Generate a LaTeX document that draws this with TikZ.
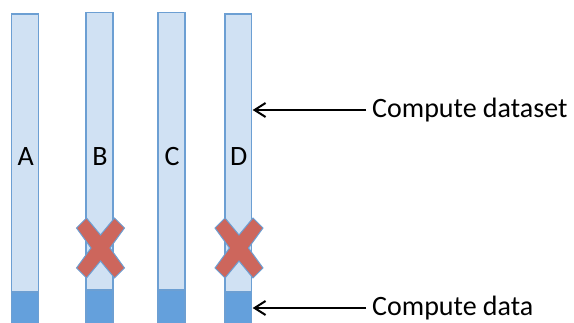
\documentclass[tikz,border=0pt]{standalone}
\usepackage{fontspec}
\setmainfont{Carlito}
\usetikzlibrary{arrows.meta}
\definecolor{barlight}{RGB}{208,225,243}
\definecolor{bardark}{RGB}{100,160,220}
\definecolor{barline}{RGB}{108,159,211}
\definecolor{crossred}{RGB}{205,102,92}
\tikzset{
  lightpart/.style={draw=barline, fill=barlight, line width=1.4pt},
  darkpart/.style={draw=barline, fill=bardark, line width=1.4pt},
  letter/.style={font=\fontsize{28}{30}\selectfont, inner sep=0pt},
  lbl/.style={font=\fontsize{28}{30}\selectfont, inner sep=0pt, anchor=west},
  ptr/.style={-{Straight Barb[length=11pt,width=14pt,line width=2pt]}, line width=2pt, black},
  crossmark/.style={fill=crossred, draw=barline, line width=1pt, line join=miter}
}
\newcommand{\mybar}[5]{% x1 x2 top split name
  \draw[lightpart] (#1,#3) rectangle (#2,#4);
  \draw[darkpart] (#1,#4) rectangle (#2,330);
  \coordinate (#5top) at ({(#1+#2)/2},#3);
  \coordinate (#5east) at (#2,#4);
}
\newcommand{\mycross}[2]{% cx cy
  \begin{scope}[shift={(#1,#2)}]
  \draw[crossmark] (-14,-30) -- (0,-13) -- (14,-30) -- (24,-20) -- (9.5,0) -- (24,20) -- (14,30) -- (0,13) -- (-14,30) -- (-24,20) -- (-9.5,0) -- (-24,-20) -- cycle;
  \end{scope}
}
\begin{document}
\begin{tikzpicture}[x=1pt,y=-1pt]
\useasboundingbox (0,0) rectangle (574,323);
\begin{scope}
\clip (0,0) rectangle (574,323);
\mybar{11.7}{38.7}{14}{292}{A}
\mybar{86}{113}{12.7}{290}{B}
\mybar{158}{185}{12.7}{290}{C}
\mybar{225}{251.7}{14}{292}{D}
\end{scope}
\node[letter] (la) at (25.7,157) {A};
\node[letter] (lb) at (100,157) {B};
\node[letter] (lc) at (172,157) {C};
\node[letter] (ld) at (238.7,157) {D};
\mycross{100.5}{248}
\mycross{239}{248}
\node[lbl] (ds) at (372,110) {Compute dataset};
\node[lbl] (dt) at (372,308) {Compute data};
\coordinate (dsend) at (252.7,110);
\coordinate (dtend) at (252.7,308);
\draw[ptr] ([xshift=-6pt]ds.west) -- (dsend);
\draw[ptr] ([xshift=-6pt]dt.west) -- (dtend);
\end{tikzpicture}
\end{document}
